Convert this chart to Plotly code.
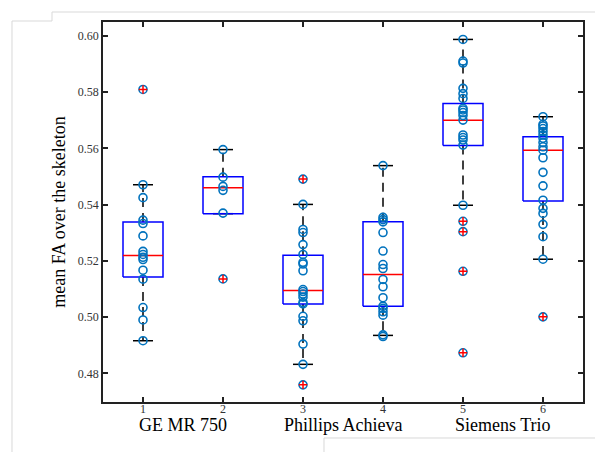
"""
Boxplot of mean FA over the skeleton per scanner session
"""
import plotly.graph_objects as go

# raw values, one list per session
group_1 = [0.5810, 0.5471, 0.5425, 0.5345, 0.5333, 0.5289, 0.5234, 0.5223,
           0.5213, 0.5205, 0.5167, 0.5135, 0.5034, 0.4990, 0.4916]
group_2 = [0.5596, 0.5498, 0.5465, 0.5451, 0.5370, 0.5136]
group_3 = [0.5491, 0.5401, 0.5312, 0.5301, 0.5258, 0.5223, 0.5195, 0.5189,
           0.5165, 0.5098, 0.5091, 0.5082, 0.5071, 0.5052, 0.5047, 0.5003,
           0.4987, 0.4904, 0.4832, 0.4759]
group_4 = [0.5539, 0.5355, 0.5347, 0.5339, 0.5301, 0.5235, 0.5187, 0.5173,
           0.5134, 0.5108, 0.5069, 0.5039, 0.5031, 0.5019, 0.5007, 0.4937,
           0.4931]
group_5 = [0.5988, 0.5911, 0.5904, 0.5814, 0.5795, 0.5778, 0.5743, 0.5737,
           0.5728, 0.5717, 0.5701, 0.5648, 0.5639, 0.5630, 0.5612, 0.5398,
           0.5341, 0.5304, 0.5163, 0.4873]
group_6 = [0.5713, 0.5686, 0.5680, 0.5671, 0.5660, 0.5648, 0.5636, 0.5621,
           0.5606, 0.5594, 0.5567, 0.5515, 0.5467, 0.5416, 0.5387, 0.5369,
           0.5330, 0.5286, 0.5206, 0.5001]
groups = [group_1, group_2, group_3, group_4, group_5, group_6]

# box statistics as drawn in the picture
q1 = [0.5143, 0.5368, 0.5047, 0.5039, 0.5611, 0.5413]
median = [0.5219, 0.5460, 0.5095, 0.5152, 0.5700, 0.5594]
q3 = [0.5338, 0.5499, 0.5220, 0.5339, 0.5760, 0.5642]
whisker_lo = [0.4916, 0.5368, 0.4832, 0.4935, 0.5398, 0.5206]
whisker_hi = [0.5471, 0.5596, 0.5401, 0.5539, 0.5988, 0.5713]
outliers = [[0.5810], [0.5136], [0.5491, 0.4759], [],
            [0.5341, 0.5304, 0.5163, 0.4873], [0.5001]]

positions = [1, 2, 3, 4, 5, 6]
scanners = ['GE MR 750', 'Phillips Achieva', 'Siemens Trio']

BOX_W = 0.25
CAP_W = 0.125
SERIF = 'Liberation Serif, Times New Roman, serif'

fig = go.Figure()

# whiskers (dashed)
wx, wy = [], []
for p, a, b, lo, hi in zip(positions, q1, q3, whisker_lo, whisker_hi):
    wx += [p, p, None, p, p, None]
    wy += [b, hi, None, a, lo, None]
fig.add_trace(go.Scatter(x=wx, y=wy, mode='lines', hoverinfo='skip',
                         line=dict(color='black', width=1.5, dash='9px,6px')))

# whisker caps
cx, cy = [], []
for p, lo, hi in zip(positions, whisker_lo, whisker_hi):
    cx += [p - CAP_W, p + CAP_W, None, p - CAP_W, p + CAP_W, None]
    cy += [hi, hi, None, lo, lo, None]
fig.add_trace(go.Scatter(x=cx, y=cy, mode='lines', hoverinfo='skip',
                         line=dict(color='black', width=1.5)))

# boxes
bx, by = [], []
for p, a, b in zip(positions, q1, q3):
    bx += [p - BOX_W, p + BOX_W, p + BOX_W, p - BOX_W, p - BOX_W, None]
    by += [a, a, b, b, a, None]
fig.add_trace(go.Scatter(x=bx, y=by, mode='lines', hoverinfo='skip',
                         line=dict(color='#0000FF', width=1.5)))

# medians
mx, my = [], []
for p, m in zip(positions, median):
    mx += [p - BOX_W, p + BOX_W, None]
    my += [m, m, None]
fig.add_trace(go.Scatter(x=mx, y=my, mode='lines', hoverinfo='skip',
                         line=dict(color='#FF0000', width=1.5)))

# all individual values
px, py = [], []
for p, g in zip(positions, groups):
    px += [p] * len(g)
    py += g
fig.add_trace(go.Scatter(x=px, y=py, mode='markers',
                         marker=dict(symbol='circle-open', size=8,
                                     color='#0072BD',
                                     line=dict(width=1.6, color='#0072BD'))))

# outliers
ox, oy = [], []
for p, o in zip(positions, outliers):
    ox += [p] * len(o)
    oy += o
fig.add_trace(go.Scatter(x=ox, y=oy, mode='markers',
                         marker=dict(symbol='cross-thin', size=6,
                                     line=dict(width=1.5, color='#FF0000'))))

# scanner names under each pair of boxes
for i, name in enumerate(scanners):
    fig.add_annotation(x=positions[2 * i] + 0.5, y=-0.06, xref='x', yref='paper',
                       text=name, showarrow=False, yanchor='middle',
                       font=dict(family=SERIF, size=18, color='black'))

# light grey outline of the pasted figure
fig.add_shape(type='path', xref='paper', yref='paper',
              path='M -0.1896 1.0026 L -0.10625 1.0026 L -0.10625 1.0263 '
                   'L 1.0479 1.0263 L 1.0479 -0.0947 L 0.4604 -0.0947 '
                   'L 0.4604 -0.1395 L -0.1896 -0.1395 Z',
              line=dict(color='#d9d9d9', width=1))

fig.update_layout(
    width=603, height=452,
    margin=dict(l=95, r=28, t=14, b=58),
    showlegend=False,
    plot_bgcolor='white', paper_bgcolor='white',
    font=dict(family=SERIF, color='black'),
    xaxis=dict(range=[0.5, 6.5], tickvals=positions, showgrid=False,
               zeroline=False, showline=True, linecolor='#222', linewidth=1.5,
               mirror='ticks', ticks='inside', ticklen=5, tickcolor='#222',
               tickwidth=1.5, ticklabelstandoff=-5,
               tickfont=dict(size=12, color='#333')),
    yaxis=dict(range=[0.4698, 0.605], dtick=0.02, tickformat='.2f',
               showgrid=False, zeroline=False, showline=True, linecolor='#222',
               linewidth=1.5, mirror='ticks', ticks='inside', ticklen=5,
               tickcolor='#222', tickwidth=1.5,
               tickfont=dict(size=12, color='#333'),
               title=dict(text='mean FA over the skeleton',
                          font=dict(size=18), standoff=8)),
)

fig.write_html('out.html')
